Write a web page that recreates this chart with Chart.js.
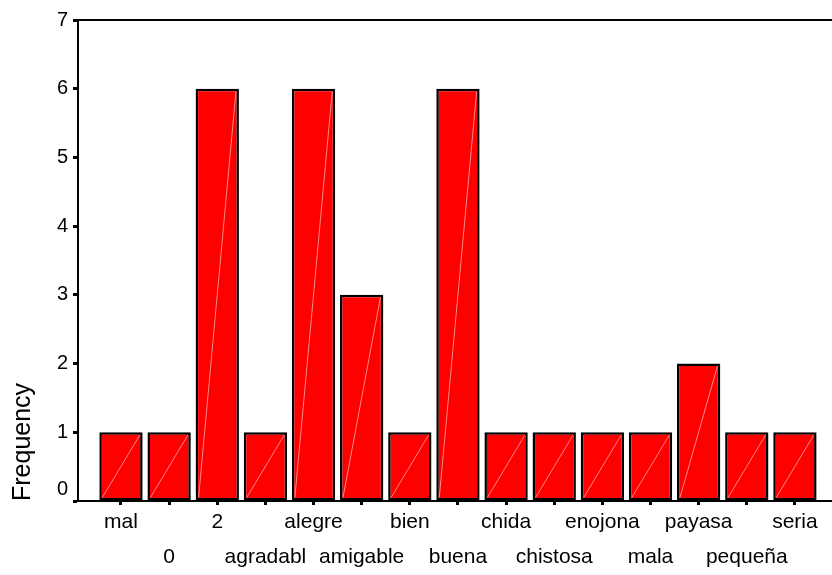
<!DOCTYPE html>
<html>
<head>
<meta charset="utf-8">
<script src="https://cdn.jsdelivr.net/npm/chart.js@4/dist/chart.umd.min.js"></script>
<style>
  html, body { margin: 0; padding: 0; background: #fff; }
</style>
</head>
<body>
<canvas id="chart" width="832" height="575"></canvas>
<script>
// values
const categories = ['mal', '0', '2', 'agradabl', 'alegre', 'amigable', 'bien', 'buena',
  'chida', 'chistosa', 'enojona', 'mala', 'payasa', 'pequeña', 'seria'];
const frequency = [1, 1, 6, 1, 6, 3, 1, 6, 1, 1, 1, 1, 2, 1, 1];
const yTicks = [0, 1, 2, 3, 4, 5, 6, 7];

// top frame line
const frameLine = {
  id: 'frameLine',
  afterDraw(chart) {
    const { ctx, chartArea } = chart;
    ctx.save();
    ctx.strokeStyle = '#000';
    ctx.lineWidth = 2;
    ctx.beginPath();
    ctx.moveTo(chartArea.left, chartArea.top);
    ctx.lineTo(chart.width, chartArea.top);
    ctx.stroke();
    ctx.restore();
  },
};

// faint diagonal inside each bar, as in the original export
const barDiagonal = {
  id: 'barDiagonal',
  afterDatasetsDraw(chart) {
    const { ctx } = chart;
    ctx.save();
    ctx.strokeStyle = 'rgba(255,170,170,0.8)';
    ctx.lineWidth = 1;
    chart.getDatasetMeta(0).data.forEach(bar => {
      const half = bar.width / 2 - 3;
      ctx.beginPath();
      ctx.moveTo(bar.x - half, bar.base - 3);
      ctx.lineTo(bar.x + half, bar.y + 3);
      ctx.stroke();
    });
    ctx.restore();
  },
};

new Chart(document.getElementById('chart'), {
  type: 'bar',
  data: {
    datasets: [{
      data: frequency.map((v, i) => ({ x: i, y: v })),
      backgroundColor: '#ff0000',
      borderColor: '#000',
      borderWidth: 2.5,
      borderSkipped: false,
      barPercentage: 0.9,
      categoryPercentage: 1,
    }],
  },
  options: {
    responsive: false,
    animation: false,
    layout: { padding: { top: 20, left: 0, right: 0, bottom: 0 } },
    plugins: { legend: { display: false }, tooltip: { enabled: false } },
    scales: {
      x: {
        type: 'linear',
        offset: false,
        min: -0.893,
        max: 14.77,
        afterBuildTicks: s => { s.ticks = categories.map((c, i) => ({ value: i })); },
        afterFit: s => { s.height = 74; },
        grid: { offset: false, drawOnChartArea: false, tickLength: 4, tickWidth: 3, tickColor: '#000' },
        border: { color: '#000', width: 2 },
        ticks: {
          autoSkip: false,
          maxRotation: 0,
          minRotation: 0,
          padding: 0,
          color: '#000',
          font: { family: 'Arial, "Liberation Sans", sans-serif', size: 21, lineHeight: 1.667 },
          // labels alternate between two rows
          callback: v => (v % 2 ? ['', categories[v]] : [categories[v], '']),
        },
      },
      y: {
        min: 0,
        max: 7,
        afterBuildTicks: s => { s.ticks = yTicks.map(v => ({ value: v })); },
        afterFit: s => { s.width = 78; },
        grid: { drawOnChartArea: false, tickLength: 5, tickWidth: 3, tickColor: '#000' },
        border: { color: '#000', width: 2 },
        ticks: {
          padding: 5,
          color: '#000',
          font: { family: 'Arial, "Liberation Sans", sans-serif', size: 20 },
          // the 0 label sits a little above its tick in the original
          callback: v => (v === 0 ? ['0', ''] : String(v)),
        },
        title: {
          display: true,
          text: 'Frequency',
          align: 'start',
          color: '#000',
          padding: { top: 8, bottom: 0 },
          font: { family: 'Arial, "Liberation Sans", sans-serif', size: 25 },
        },
      },
    },
  },
  plugins: [frameLine, barDiagonal],
});
</script>
</body>
</html>
